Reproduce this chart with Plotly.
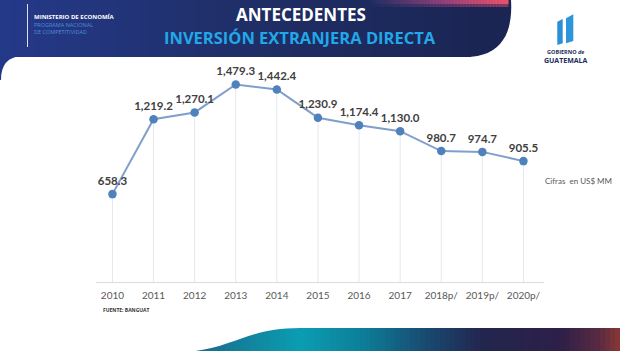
import plotly.graph_objects as go

W, H = 620, 351

# ---- data ----
years = ["2010", "2011", "2012", "2013", "2014", "2015", "2016", "2017", "2018p/", "2019p/", "2020p/"]
ied = [658.3, 1219.2, 1270.1, 1479.3, 1442.4, 1230.9, 1174.4, 1130.0, 980.7, 974.7, 905.5]
labels = [f"{v:,.1f}" for v in ied]


def px(x):
    return x / W


def py(y):
    return 1 - y / H


def P(cmds):
    out = []
    for c in cmds:
        op = c[0]
        if op == "Z":
            out.append("Z")
            continue
        nums = c[1:]
        pts = []
        for i in range(0, len(nums), 2):
            pts.append(f"{px(nums[i]):.5f},{py(nums[i+1]):.5f}")
        out.append(op + " " + " ".join(pts))
    return " ".join(out)


def hex2rgb(h):
    h = h.lstrip("#")
    return tuple(int(h[i:i + 2], 16) for i in (0, 2, 4))


def interp(stops, x):
    for (x0, c0), (x1, c1) in zip(stops[:-1], stops[1:]):
        if x0 <= x <= x1:
            t = (x - x0) / (x1 - x0) if x1 > x0 else 0
            a, b = hex2rgb(c0), hex2rgb(c1)
            r = [round(a[k] + (b[k] - a[k]) * t) for k in range(3)]
            return f"rgb({r[0]},{r[1]},{r[2]})"
    return stops[-1][1] if x > stops[-1][0] else stops[0][1]


shapes = []


def rect(x0, y0, x1, y1, color, opacity=1):
    shapes.append(dict(type="rect", xref="paper", yref="paper", x0=px(x0), x1=px(x1),
                       y0=py(y1), y1=py(y0), fillcolor=color, line=dict(width=0),
                       layer="below", opacity=opacity))


def path(cmds, color, layer="below"):
    shapes.append(dict(type="path", xref="paper", yref="paper", path=P(cmds),
                       fillcolor=color, line=dict(width=0), layer=layer))


# ---- header band (gradient) ----
hdr_stops = [(0, "#25398a"), (250, "#1f2e66"), (520, "#1a2452")]
step = 5
for x in range(0, 470, step):
    rect(x, 0, x + step + 0.6, 57, interp(hdr_stops, x + step / 2))
path([("M", 469, 0), ("L", 511, 0), ("C", 512, 15, 510, 30, 503, 40), ("Q", 492, 57, 465, 57),
      ("L", 469, 57), ("Z",)], "#1b2553")
# navy corner behind the white panel's rounded corner
path([("M", 0, 56), ("L", 22, 56), ("Q", 1, 57, 1, 80), ("L", 0, 80), ("Z",)], "#24388a")
# pink strip at the top right
pink_stops = [(370, "#1f2d62"), (440, "#8a3f78"), (505, "#e5506c")]
for x in range(370, 508, 3):
    rect(x, 0, x + 3.6, 4, interp(pink_stops, x + 1.5))
    rect(x, 4, x + 3.6, 7, interp(pink_stops, x + 1.5), opacity=0.45)
# thin divider line in header
shapes.append(dict(type="line", xref="paper", yref="paper", x0=px(27.5), x1=px(27.5),
                   y0=py(47), y1=py(4), line=dict(color="rgba(255,255,255,0.85)", width=1),
                   layer="below"))

# ---- logo bars ----
path([("M", 557.3, 21.7), ("L", 562.7, 19), ("L", 562.7, 43.3), ("L", 557.3, 45), ("Z",)], "#2a8fd6")
path([("M", 566, 18.3), ("L", 573.3, 14.3), ("L", 573.3, 41), ("L", 566, 43.3), ("Z",)], "#2f95da")

# ---- bottom wave (gradient) ----
wave_stops = [(185, "#1a6584"), (300, "#0a9db2"), (360, "#0d809a"), (420, "#174f74"),
              (480, "#22264f"), (560, "#2d1f48"), (600, "#5a2a42"), (620, "#8a3834")]
for x in range(185, 620, step):
    rect(x, 328, x + step + 0.6, 352, interp(wave_stops, x + step / 2))
path([("M", 183, 352), ("C", 232, 350, 245, 328, 300, 328), ("L", 183, 326), ("Z",)], "white")

# ---- chart ----
fig = go.Figure()
fig.add_trace(go.Scatter(
    x=years, y=ied, mode="lines+markers+text",
    line=dict(color="#7f9fcb", width=2),
    marker=dict(color="#4f81bd", size=8.5),
    text=labels, textposition="top center",
    textfont=dict(family="Lato", size=11.5, color="#404040", weight="bold"),
    error_y=dict(type="data", symmetric=False, array=[0] * len(ied), arrayminus=ied,
                 color="#e2e8f0", thickness=1, width=0),
    cliponaxis=False, showlegend=False, hoverinfo="skip",
))

annotations = [
    dict(text="ANTECEDENTES", x=px(300.5), y=py(15), font=dict(family="Open Sans", size=17, color="white", weight="bold")),
    dict(text="INVERSIÓN EXTRANJERA DIRECTA", x=px(300), y=py(38),
         font=dict(family="Open Sans", size=16.5, color="#22a7e8", weight="bold")),
    dict(text="MINISTERIO DE ECONOMÍA", x=px(32), y=py(17), xanchor="left",
         font=dict(family="Open Sans", size=6, color="white", weight="bold")),
    dict(text="PROGRAMA NACIONAL", x=px(32), y=py(25), xanchor="left",
         font=dict(family="Open Sans", size=5.5, color="#4a8fd8")),
    dict(text="DE COMPETITIVIDAD", x=px(32), y=py(32), xanchor="left",
         font=dict(family="Open Sans", size=5.5, color="#4a8fd8")),
    dict(text="<span style='font-size:5.5px'>GOBIERNO <i>de</i></span><br>GUATEMALA",
         x=px(566), y=py(57), borderpad=0,
         font=dict(family="Open Sans", size=7, color="#1d2d5a", weight="bold")),
    dict(text="Cifras  en US$ MM", x=px(543), y=py(181), xanchor="left",
         font=dict(family="Lato", size=8, color="#595959")),
    dict(text="FUENTE: BANGUAT", x=px(101), y=py(310), xanchor="left",
         font=dict(family="Open Sans", size=5, color="#333333", weight="bold")),
]
for a in annotations:
    a.update(xref="paper", yref="paper", showarrow=False)
    a.setdefault("xanchor", "center")
    a.setdefault("yanchor", "middle")

fig.update_layout(
    width=W, height=H, margin=dict(l=0, r=0, t=0, b=0),
    paper_bgcolor="white", plot_bgcolor="rgba(0,0,0,0)",
    shapes=shapes, annotations=annotations,
    xaxis=dict(type="category", range=[-0.4, 10.5], domain=[px(96), px(544)],
               showline=True, linecolor="#dcdcdc", linewidth=1, showgrid=False, zeroline=False,
               ticks="", tickfont=dict(family="Lato", size=10, color="#595959"),
               ticklabelstandoff=4, fixedrange=True),
    yaxis=dict(range=[0, 1663], domain=[py(282), py(60)], visible=False, fixedrange=True),
)

fig.write_html("out.html")
